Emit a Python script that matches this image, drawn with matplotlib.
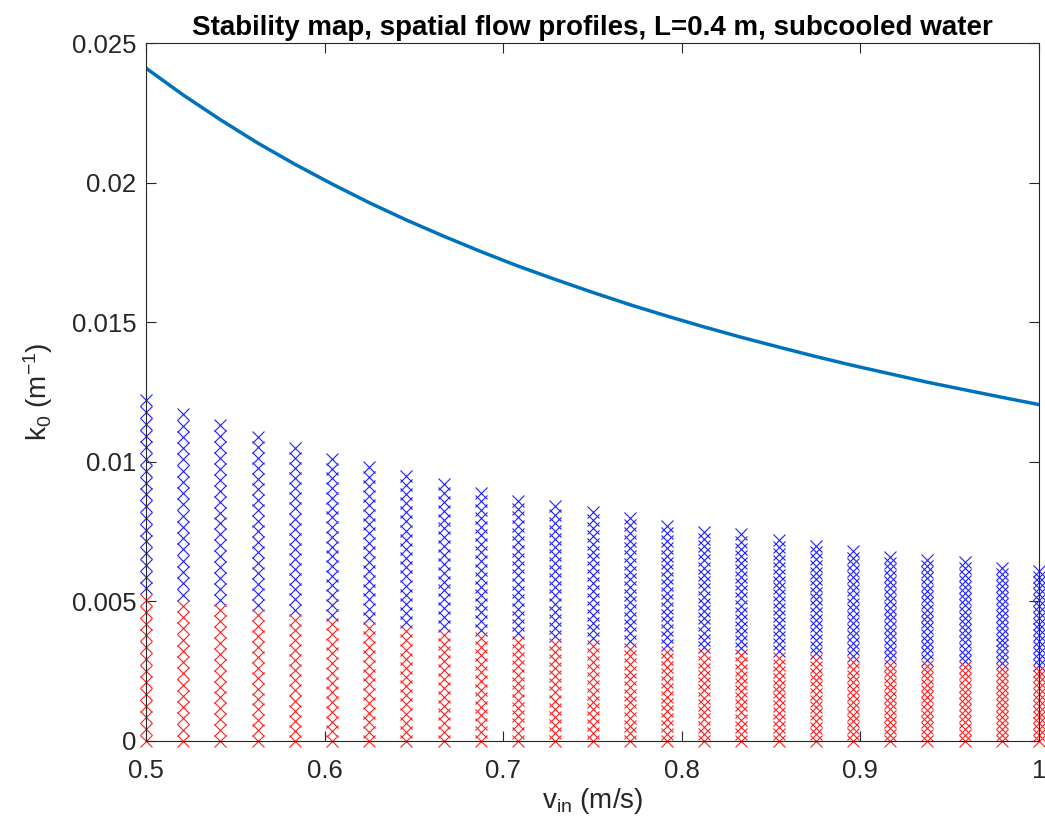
import numpy as np
import matplotlib
matplotlib.use('Agg')
import matplotlib.pyplot as plt

plt.rcParams['font.family'] = ['Liberation Sans', 'DejaVu Sans']
plt.rcParams['mathtext.default'] = 'regular'

# inlet velocities of the grid columns (m/s)
v_cols = [0.5, 0.5208, 0.5417, 0.5625, 0.5833, 0.6042, 0.625, 0.6458, 0.6667,
          0.6875, 0.7083, 0.7292, 0.75, 0.7708, 0.7917, 0.8125, 0.8333, 0.8542,
          0.875, 0.8958, 0.9167, 0.9375, 0.9583, 0.9792, 1.0]
# highest k0 tested in each column
k_top = [0.0122, 0.0117, 0.0113, 0.0109, 0.0105, 0.0101, 0.0098, 0.0095, 0.0092,
         0.0089, 0.0086, 0.0084, 0.0082, 0.0080, 0.0077, 0.0075, 0.0074, 0.0072,
         0.0070, 0.0068, 0.0066, 0.0065, 0.0064, 0.0062, 0.0061]
# number of grid points per column, and how many of them are unstable (red)
n_pts = 30
n_red = 13
# stability boundary curve
k_line = [0.02410, 0.02314, 0.02225, 0.02142, 0.02066, 0.01995, 0.01928, 0.01866,
          0.01808, 0.01753, 0.01701, 0.01653, 0.01607, 0.01563, 0.01522, 0.01483,
          0.01446, 0.01411, 0.01377, 0.01345, 0.01315, 0.01285, 0.01258, 0.01231,
          0.01205]

fig = plt.figure(figsize=(10.45, 8.32), dpi=100)
ax = fig.add_axes([0.1397, 0.1094, 0.8546, 0.8389])

for v, top in zip(v_cols, k_top):
    ks = np.linspace(0, top, n_pts)
    ax.plot([v] * (n_pts - n_red), ks[n_red:], 'x', color='#2020ff', ms=8.5, mew=0.8,
            clip_on=False, zorder=2)
    ax.plot([v] * n_red, ks[:n_red], 'x', color='#ff2020', ms=8.5, mew=0.8,
            clip_on=False, zorder=2)

ax.plot(v_cols, k_line, color='#0072BD', lw=2.5, zorder=3)

ax.set_xlim(0.5, 1)
ax.set_ylim(0, 0.025)
ax.set_xticks([0.5, 0.6, 0.7, 0.8, 0.9, 1.0])
ax.set_xticklabels(['0.5', '0.6', '0.7', '0.8', '0.9', '1'])
ax.set_yticks([0, 0.005, 0.01, 0.015, 0.02, 0.025])
ax.set_yticklabels(['0', '0.005', '0.01', '0.015', '0.02', '0.025'])

axcol = '#262626'
for s in ax.spines.values():
    s.set_color(axcol)
    s.set_linewidth(0.8)
    s.set_zorder(4)
ax.tick_params(direction='in', top=True, right=True, length=7, width=0.8,
               colors=axcol, labelsize=18.5, pad=7)
ax.tick_params(axis='x', pad=13)

ax.set_xlabel('v$_{in}$ (m/s)', fontsize=20, color=axcol, labelpad=2)
ax.set_ylabel('k$_0$ (m$^{-1}$)', fontsize=20, color=axcol, labelpad=12)
ax.set_title('Stability map, spatial flow profiles, L=0.4 m, subcooled water',
             fontsize=20, fontweight='bold', pad=6)

fig.savefig('out.png', dpi=100)
